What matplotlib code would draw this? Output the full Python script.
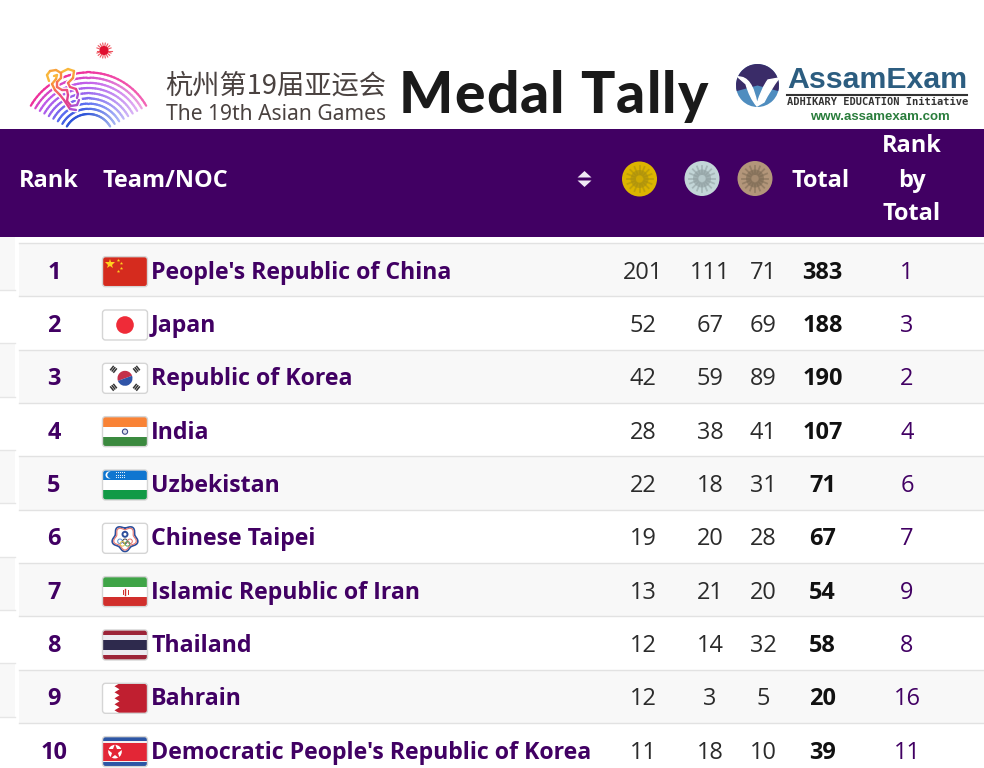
import numpy as np
import matplotlib
matplotlib.use("Agg")
import matplotlib.pyplot as plt
from matplotlib.patches import Rectangle, Circle, FancyBboxPatch, Polygon, Wedge, PathPatch
from matplotlib.path import Path
from matplotlib.font_manager import FontProperties
from matplotlib.colors import LinearSegmentedColormap, to_rgb

plt.rcParams['font.family'] = ['Open Sans', 'Noto Sans CJK SC', 'DejaVu Sans']

# table data
ranks = [1, 2, 3, 4, 5, 6, 7, 8, 9, 10]
teams = ["People's Republic of China", "Japan", "Republic of Korea", "India", "Uzbekistan",
         "Chinese Taipei", "Islamic Republic of Iran", "Thailand", "Bahrain",
         "Democratic People's Republic of Korea"]
gold = [201, 52, 42, 28, 22, 19, 13, 12, 12, 11]
silver = [111, 67, 59, 38, 18, 20, 21, 14, 3, 18]
bronze = [71, 69, 89, 41, 31, 28, 20, 32, 5, 10]
total = [383, 188, 190, 107, 71, 67, 54, 58, 20, 39]
rank_by_total = [1, 3, 2, 4, 6, 7, 9, 8, 16, 11]
flags = ["cn", "jp", "kr", "in", "uz", "tpe", "ir", "th", "bh", "kp"]

PURPLE = "#410063"
TXT = "#2b2b2b"
px = 0.72  # pixel -> points at dpi 100

fig = plt.figure(figsize=(9.84, 7.68), dpi=100)
ax = fig.add_axes([0, 0, 1, 1])
ax.set_xlim(0, 984)
ax.set_ylim(768, 0)
ax.axis("off")


def rect(x, y, w, h, c, z=3, clip=None):
    r = Rectangle((x, y), w, h, fc=c, ec="none", zorder=z)
    ax.add_patch(r)
    if clip is not None:
        r.set_clip_path(clip)
    return r


def draw_flag(code, x, y, w=45, h=30):
    # rounded frame first, everything else is clipped to it
    frame = FancyBboxPatch((x + 2, y + 2), w - 4, h - 4, boxstyle="round,pad=2,rounding_size=3",
                           fc="white", ec="none", zorder=2)
    ax.add_patch(frame)
    border = FancyBboxPatch((x + 2, y + 2), w - 4, h - 4, boxstyle="round,pad=2,rounding_size=3",
                            fc="none", ec="#d5d5d5", lw=1, zorder=6)
    ax.add_patch(border)
    cx, cy = x + w / 2, y + h / 2

    def stripes(items):
        yy = y
        for frac, c in items:
            rect(x, yy, w, h * frac, c, 3, frame)
            yy += h * frac

    def add(p):
        ax.add_patch(p)
        p.set_clip_path(frame)

    if code == "cn":
        rect(x, y, w, h, "#d52b1e", 3, frame)
        ax.plot(x + 7.5, y + 7.5, marker="*", ms=7, color="#ffd21f", mew=0, zorder=4)
        for dx, dy in [(15, 3.5), (18, 6.5), (18, 11), (15, 14)]:
            ax.plot(x + dx, y + dy, marker="*", ms=2.6, color="#ffd21f", mew=0, zorder=4)
    elif code == "jp":
        add(Circle((cx, cy), 8.8, fc="#ef2b38", ec="none", zorder=4))
    elif code == "kr":
        add(Wedge((cx, cy), 7.5, 160, 340, fc="#c4304a", ec="none", zorder=4))
        add(Wedge((cx, cy), 7.5, 340, 160, fc="#2f54a8", ec="none", zorder=4))
        for sx, sy in [(-1, -1), (1, -1), (-1, 1), (1, 1)]:
            ang = np.arctan2(sy * 0.8, sx)
            for k in (-2.5, 0, 2.5):
                mx = cx + sx * 11.5 + k * np.cos(ang) * 0.8
                my = cy + sy * 9 + k * np.sin(ang) * 0.8
                ax.plot([mx - 2.8 * np.sin(ang), mx + 2.8 * np.sin(ang)],
                        [my + 2.8 * np.cos(ang), my - 2.8 * np.cos(ang)],
                        color="#333333", lw=1.1, zorder=4, solid_capstyle="butt")
    elif code == "in":
        stripes([(1 / 3, "#f98336"), (1 / 3, "#ffffff"), (1 / 3, "#3b8a3f")])
        add(Circle((cx, cy), 2.6, fc="#dfe0ee", ec="#3f4a88", lw=0.8, zorder=4))
    elif code == "uz":
        stripes([(0.32, "#0f76d0"), (0.02, "#e58080"), (0.32, "#ffffff"), (0.02, "#e58080"), (0.32, "#119a46")])
        add(Circle((x + 6.5, y + 5), 3.5, fc="white", ec="none", zorder=4))
        add(Circle((x + 8, y + 5), 3.2, fc="#0f76d0", ec="none", zorder=4))
        for i in range(5):
            for j in range(3):
                ax.plot(x + 13 + i * 2.2, y + 2.5 + j * 2.4, ".", ms=1.6, color="white", mew=0, zorder=4)
    elif code == "tpe":
        ang = np.linspace(0, 2 * np.pi, 200)
        rr = 11.8 + 1.5 * np.cos(5 * ang + np.pi)
        ax.plot(cx + rr * np.sin(ang), cy - rr * np.cos(ang), color="#2c4f9c", lw=1.2, zorder=4)
        rr2 = rr - 1.6
        ax.plot(cx + rr2 * np.sin(ang), cy - rr2 * np.cos(ang), color="#e8776f", lw=0.8, zorder=4)
        add(Circle((cx, cy - 4), 2.5, fc="white", ec="#2c4f9c", lw=1.4, zorder=5))
        for dx, dy, c in [(-5, 3, "#5a8fd0"), (0, 3, "#444444"), (5, 3, "#e06a60"),
                          (-2.5, 5.5, "#e3c050"), (2.5, 5.5, "#55a060")]:
            add(Circle((cx + dx, cy + dy), 2.3, fc="none", ec=c, lw=0.7, zorder=5))
    elif code == "ir":
        stripes([(0.33, "#3fa447"), (0.01, "#e8e8e8"), (0.33, "#ffffff"), (0.01, "#e8a0a0"), (0.32, "#d12f2c")])
        ax.plot([cx, cx], [cy - 3, cy + 3], color="#d12f2c", lw=1, zorder=4)
        ax.plot([cx - 2.5, cx - 2.5], [cy - 2, cy + 2], color="#d12f2c", lw=0.7, zorder=4)
        ax.plot([cx + 2.5, cx + 2.5], [cy - 2, cy + 2], color="#d12f2c", lw=0.7, zorder=4)
    elif code == "th":
        stripes([(1 / 6, "#9c2338"), (1 / 6, "#eceaf0"), (1 / 3, "#2e2a4d"), (1 / 6, "#eceaf0"), (1 / 6, "#9c2338")])
    elif code == "bh":
        rect(x, y, w, h, "#c01f30", 3, frame)
        zx = [x + 17 if i % 2 == 0 else x + 12 for i in range(11)]
        zy = [y + h * i / 10 for i in range(11)]
        add(Polygon([(x, y)] + list(zip(zx, zy)) + [(x, y + h)], fc="white", ec="none", zorder=4))
    elif code == "kp":
        stripes([(0.16, "#2d56a5"), (0.04, "#f1f1f1"), (0.6, "#e32636"), (0.04, "#f1f1f1"), (0.16, "#2d56a5")])
        add(Circle((x + 12.5, cy), 6.8, fc="white", ec="none", zorder=4))
        ax.plot(x + 12.5, cy, marker="*", ms=12, color="#e32636", mew=0, zorder=5)


def draw_medal(cx, cy, base, dark):
    ax.add_patch(Circle((cx, cy), 17.5, fc=base, ec="none", zorder=3))
    for a in np.radians(np.arange(0, 360, 22.5)):
        ax.plot([cx + 5 * np.cos(a), cx + 13 * np.cos(a)], [cy + 5 * np.sin(a), cy + 13 * np.sin(a)],
                color=dark, lw=1.3, alpha=0.55, zorder=4)
    ax.add_patch(Circle((cx, cy), 9, fc=dark, ec="none", alpha=0.6, zorder=4))
    ax.add_patch(Circle((cx, cy), 3.5, fc=base, ec="none", alpha=0.6, zorder=5))


def spaced_text(s, x, y, size, extra, color, family, weight):
    # no letter spacing in matplotlib, so place the letters one at a time
    fp = FontProperties(family=family, weight=weight, size=size * px)
    rend = fig.canvas.get_renderer()
    for i, ch in enumerate(s):
        adv = rend.get_text_width_height_descent(s[:i], fp, False)[0] if i else 0
        ax.text(x + adv + i * extra, y, ch, color=color, fontproperties=fp, ha="left", va="baseline")


# ---- table background
ROW_TOP = 243
ROW_H = 53.33
for i in range(len(ranks)):
    y0 = ROW_TOP + i * ROW_H
    if i % 2 == 0:
        rect(19, y0, 965, ROW_H, "#f8f8f8", 0)
        rect(0, y0 - 6, 15, ROW_H, "#f8f8f8", 0)
    ax.plot([19, 984], [y0, y0], color="#e2e2e2", lw=1, zorder=1)
    ax.plot([0, 15], [y0 + 47, y0 + 47], color="#e6e6e6", lw=1, zorder=1)

    yc = y0 + ROW_H / 2
    ax.text(54, yc, str(ranks[i]), color=PURPLE, fontsize=23.5 * px, fontweight="bold", ha="center", va="center_baseline")
    draw_flag(flags[i], 102.5, yc - 13)
    ax.text(151, yc, teams[i], color=PURPLE, fontsize=23.1 * px, fontweight="bold", ha="left", va="center_baseline")
    ax.text(643, yc, str(gold[i]), color=TXT, fontsize=23.5 * px, ha="center", va="center_baseline")
    ax.text(710, yc, str(silver[i]), color=TXT, fontsize=23.5 * px, ha="center", va="center_baseline")
    ax.text(763, yc, str(bronze[i]), color=TXT, fontsize=23.5 * px, ha="center", va="center_baseline")
    ax.text(822.5, yc, str(total[i]), color="#111111", fontsize=23.5 * px, fontweight="bold", ha="center", va="center_baseline")
    ax.text(907, yc, str(rank_by_total[i]), color=PURPLE, fontsize=23.5 * px, ha="center", va="center_baseline")

# ---- header bar
rect(0, 129, 984, 108, PURPLE, 2)
hdr = dict(color="white", fontsize=23.5 * px, fontweight="bold", va="center_baseline", zorder=5)
ax.text(48.5, 178, "Rank", ha="center", **hdr)
ax.text(102.5, 178, "Team/NOC", ha="left", **hdr)
ax.text(821, 178, "Total", ha="center", **hdr)
ax.text(912, 143, "Rank", ha="center", **hdr)
ax.text(912, 178, "by", ha="center", **hdr)
ax.text(912, 211, "Total", ha="center", **hdr)
ax.add_patch(Polygon([(584.5, 171), (577.5, 177.5), (591.5, 177.5)], fc="#f0e8f5", ec="none", zorder=5))
ax.add_patch(Polygon([(584.5, 187), (577.5, 180.5), (591.5, 180.5)], fc="#f0e8f5", ec="none", zorder=5))
draw_medal(639.5, 179, "#dcb400", "#a98f10")
draw_medal(702, 178.5, "#c3d6d8", "#8f9ea0")
draw_medal(755, 178.5, "#b3967a", "#7d6b55")

# ---- games logo: fan of arcs
fan = LinearSegmentedColormap.from_list("fan", ["#2f55d8", "#5a6cf0", "#9a62ee", "#c05ae8", "#f0309a"])
fcx, fcy = 88.5, 139
for r in np.arange(25, 68, 5.2):
    t = (r - 25) / 42
    th = np.radians(np.linspace(150, 30, 40))
    for k in range(len(th) - 1):
        f = k / 38
        c = np.array(fan(t)[:3])
        c = c + (np.array(to_rgb("white")) - c) * 0.5 * max(0, f - 0.45) / 0.55 * (1 - 0.5 * (t > 0.95))
        ax.plot([fcx + r * np.cos(th[k]), fcx + r * np.cos(th[k + 1])],
                [fcy - r * np.sin(th[k]), fcy - r * np.sin(th[k + 1])],
                color=c, lw=1.6, zorder=2, solid_capstyle="round")
# squiggle, two loops
sq_a = [(49, 81), (47, 75), (50, 71), (56, 70), (61, 73), (61, 78), (57, 82), (57, 87), (62, 90), (67, 90),
        (68, 95), (67, 101), (71, 106), (77, 105), (79, 100)]
sq_b = [(62, 72), (68, 69), (74, 71), (73, 78), (68, 83), (70, 87), (76, 89), (78, 94), (77, 98)]
sq_c = [(54, 76), (57, 75), (56, 79), (52, 84), (55, 90), (60, 95), (64, 100), (70, 109), (76, 110)]
sq_cols = ["#f9b73c", "#f9a23c", "#f98a40", "#f56a60", "#ef4f80", "#e0408f", "#b050d0"]
for sq in (sq_c, sq_b, sq_a):
    sx = [p[0] for p in sq]
    sy = [p[1] for p in sq]
    ax.plot(sx, sy, color="white", lw=3.6, zorder=3, solid_joinstyle="round")
    for k in range(len(sq) - 1):
        c = sq_cols[min(k * 7 // (len(sq) - 1), 6)]
        ax.plot(sx[k:k + 2], sy[k:k + 2], color=c, lw=1.7, zorder=4, solid_capstyle="round")
# sun
for a in np.radians(np.arange(0, 360, 20)):
    ax.plot([104 + 3 * np.cos(a), 104 + 7.5 * np.cos(a)], [50.5 + 3 * np.sin(a), 50.5 + 7.5 * np.sin(a)],
            color="#ee5560", lw=0.8, zorder=3)
ax.add_patch(Circle((104, 50.5), 4.5, fc="#e01030", ec="none", zorder=4))

ax.text(165, 86.5, "杭州第19届亚运会", color="#4a4240", fontsize=27.2 * px, ha="left", va="center",
        family=['Noto Sans CJK SC', 'DejaVu Sans'])
ax.text(166, 115, "The 19th Asian Games", color="#4a4240", fontsize=21 * px, ha="left", va="center",
        family="Noto Sans")

# ---- title
spaced_text("Medal Tally", 399, 113, 57, 1.2, "#1a1a1a", "Lato", "black")

# ---- AssamExam logo
ax.add_patch(Circle((757.5, 85.5), 21.5, fc="#4f8dbf", ec="none", zorder=3))
ax.add_patch(Wedge((757.5, 85.5), 21.5, 165, 15, fc="#3a2c68", ec="none", zorder=3))
wing = Path([(738, 77), (752, 76), (757, 104), (757, 104), (762, 88), (768, 80), (779, 78),
             (770, 90), (764, 102), (757, 106), (750, 98), (746, 84), (738, 77)],
            [Path.MOVETO, Path.CURVE3, Path.CURVE3, Path.LINETO, Path.CURVE3, Path.CURVE3, Path.LINETO,
             Path.CURVE3, Path.CURVE3, Path.LINETO, Path.CURVE3, Path.CURVE3, Path.CLOSEPOLY])
ax.add_patch(PathPatch(wing, fc="white", ec="white", lw=1, zorder=4))
ax.text(787, 80, "AssamExam", color="#2c5d80", fontsize=30.3 * px, fontweight="bold", family="Liberation Sans",
        ha="left", va="center")
ax.plot([787, 967], [94.5, 94.5], color="#333333", lw=1.5, zorder=3)
ax.text(787, 102, "ADHIKARY EDUCATION Initiative", color="#333333", fontsize=10.4 * px, family="DejaVu Sans Mono",
        ha="left", va="center", fontweight="bold")
ax.text(880, 117, "www.assamexam.com", color="#2a7d3c", fontsize=13.2 * px, fontweight="bold",
        family="Liberation Sans", ha="center", va="center")

fig.savefig("out.png", dpi=100, facecolor="white")
